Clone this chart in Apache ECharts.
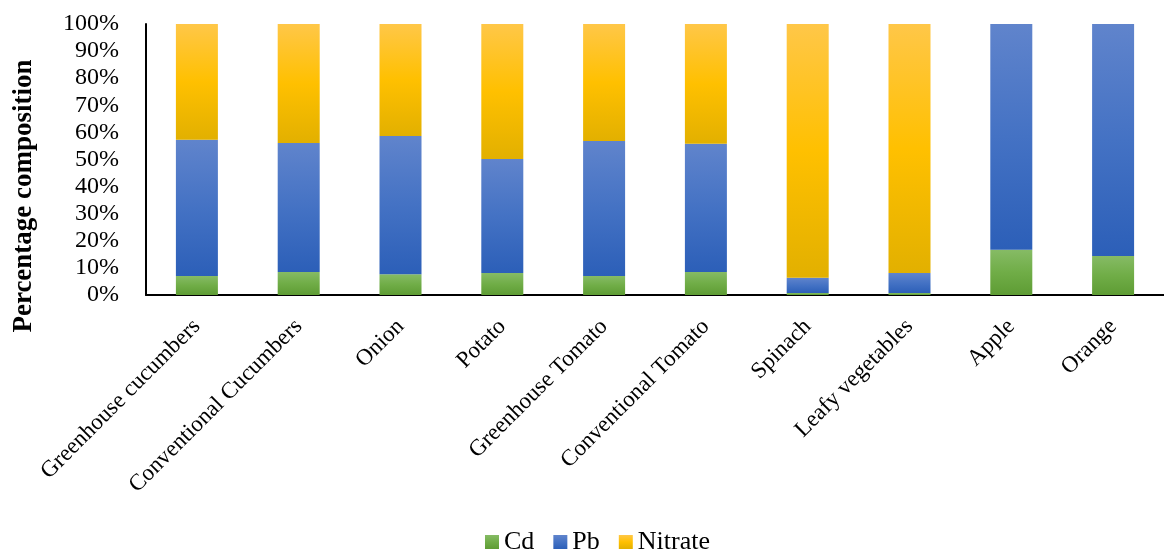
<!DOCTYPE html>
<html><head><meta charset="utf-8">
<script src="https://cdn.jsdelivr.net/npm/echarts@6/dist/echarts.min.js"></script>
<style>html,body{margin:0;padding:0;background:#fff}#c{width:1164px;height:555px}</style>
</head><body><div id="c"></div>
<script>
const categories = ['Greenhouse cucumbers','Conventional Cucumbers','Onion','Potato','Greenhouse Tomato','Conventional Tomato','Spinach','Leafy vegetables','Apple','Orange'];
const cd = [7.0, 8.5, 7.7, 8.1, 7.0, 8.5, 0.7, 0.7, 16.7, 14.4];
const pb = [50.3, 47.6, 51.0, 42.1, 49.8, 47.3, 5.7, 7.4, 83.3, 85.6];
const nitrate = [42.7, 43.9, 41.3, 49.8, 43.2, 44.2, 93.6, 91.9, 0, 0];
const yTicks = ['0%','10%','20%','30%','40%','50%','60%','70%','80%','90%','100%'];

function grad(top, mid, bot){
  return new echarts.graphic.LinearGradient(0,0,0,1,[
    {offset:0,color:top},{offset:0.5,color:mid},{offset:1,color:bot}]);
}
const font = '"Liberation Serif","Times New Roman",serif';
const chart = echarts.init(document.getElementById('c'));
chart.setOption({
  animation:false,
  textStyle:{fontFamily:font,color:'#000'},
  grid:{left:146,right:0,top:24,bottom:260,containLabel:false},
  xAxis:{type:'category',data:categories,
    axisLine:{lineStyle:{color:'#000',width:2}},
    axisTick:{show:false},
    axisLabel:{rotate:45,fontSize:23,color:'#000',fontFamily:font,interval:0,margin:28}},
  yAxis:{type:'value',min:0,max:100,interval:10,
    axisLine:{show:true,lineStyle:{color:'#000',width:2}},
    splitLine:{show:false},axisTick:{show:false},
    axisLabel:{fontSize:24,color:'#000',fontFamily:font,margin:27,
      formatter:function(v){return yTicks[Math.round(v/10)];}}},
  graphic:[{type:'text',x:24,y:196,rotation:Math.PI/2,
    style:{text:'Percentage composition',font:'bold 27px '+font,fill:'#000',
      textAlign:'center',textVerticalAlign:'middle'}}],
  legend:{top:529,left:485,padding:0,icon:'rect',itemWidth:14,itemHeight:14,itemGap:19,
    textStyle:{fontSize:26,color:'#000',fontFamily:font},
    data:['Cd','Pb','Nitrate']},
  series:[
    {name:'Cd',type:'bar',stack:'a',barWidth:42,data:cd,
      itemStyle:{color:grad('#86BB65','#70AD47','#5E9C34')}},
    {name:'Pb',type:'bar',stack:'a',barWidth:42,data:pb,
      itemStyle:{color:grad('#6084CC','#4472C4','#2C5FB8')}},
    {name:'Nitrate',type:'bar',stack:'a',barWidth:42,data:nitrate,
      itemStyle:{color:grad('#FFC748','#FFC000','#E2B000')}}
  ]
});
</script></body></html>
